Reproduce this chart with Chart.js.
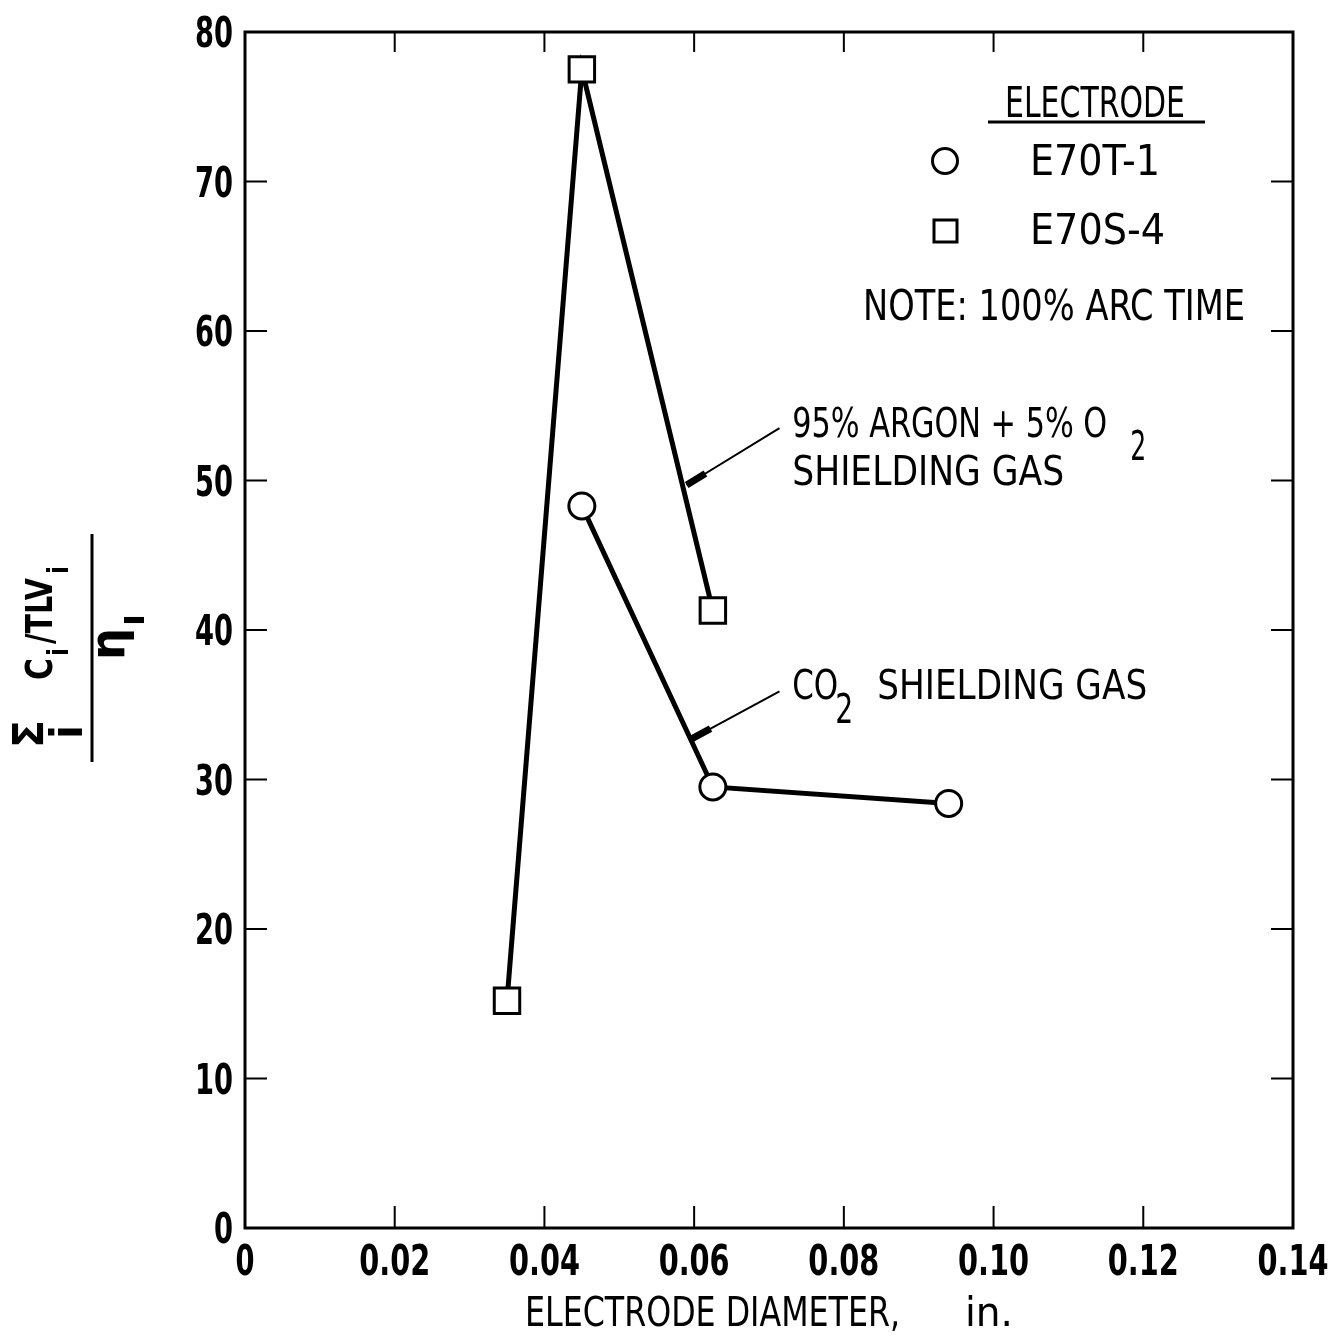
<!DOCTYPE html>
<html>
<head>
<meta charset="utf-8">
<script src="https://cdn.jsdelivr.net/npm/chart.js@4.4.0/dist/chart.umd.min.js"></script>
<style>
	body { margin: 0; background: #fff; }
	#wrap { width: 1338px; height: 1340px; position: relative; }
</style>
</head>
<body>
<div id="wrap"><canvas id="fumeChart"></canvas></div>
<script>
// electrode diameter (in.) and fume index
const diamE70S4 = [0.035, 0.045, 0.0625];
const fumeE70S4 = [15.2, 77.5, 41.3];
const diamE70T1 = [0.045, 0.0625, 0.094];
const fumeE70T1 = [48.3, 29.5, 28.4];

const xTicks = [0, 0.02, 0.04, 0.06, 0.08, 0.10, 0.12, 0.14];
const yTicks = [0, 10, 20, 30, 40, 50, 60, 70, 80];
const xTickLabels = ["0", "0.02", "0.04", "0.06", "0.08", "0.10", "0.12", "0.14"];

const FONT = "'DejaVu Sans Condensed', 'DejaVu Sans', sans-serif";

function toPoints(xs, ys) {
	return xs.map((x, i) => ({x: x, y: ys[i]}));
}

// texto estrecho: se escala en x para ocupar el ancho pedido
function drawText(ctx, text, x, y, size, width, align, weight) {
	ctx.save();
	ctx.font = `${weight || "normal"} ${size}px ${FONT}`;
	ctx.textBaseline = "alphabetic";
	ctx.textAlign = "left";
	const raw = ctx.measureText(text).width;
	const k = width ? width / raw : 0.86;
	const w = raw * k;
	let x0 = x;
	if (align === "center") x0 = x - w / 2;
	if (align === "right") x0 = x - w;
	ctx.translate(x0, y);
	ctx.scale(k, 1);
	ctx.fillText(text, 0, 0);
	ctx.restore();
	return w;
}

function tickWidth(label) {
	let w = 0;
	for (const ch of label) w += ch === "." ? 14 : 19;
	return w;
}

const framePlugin = {
	id: "frame",
	afterDraw(chart) {
		const ctx = chart.ctx;
		const a = chart.chartArea;
		const sx = chart.scales.x;
		const sy = chart.scales.y;
		ctx.save();
		ctx.strokeStyle = "#000";
		ctx.fillStyle = "#000";
		ctx.lineWidth = 3;
		ctx.strokeRect(a.left, a.top, a.right - a.left, a.bottom - a.top);
		ctx.lineWidth = 2;
		ctx.beginPath();
		xTicks.slice(1, -1).forEach((v) => {
			const px = sx.getPixelForValue(v);
			ctx.moveTo(px, a.bottom); ctx.lineTo(px, a.bottom - 22);
			ctx.moveTo(px, a.top); ctx.lineTo(px, a.top + 20);
		});
		yTicks.slice(1, -1).forEach((v) => {
			const py = sy.getPixelForValue(v);
			ctx.moveTo(a.left, py); ctx.lineTo(a.left + 22, py);
			ctx.moveTo(a.right, py); ctx.lineTo(a.right - 22, py);
		});
		ctx.stroke();

		// etiquetas de los ejes
		xTicks.forEach((v, i) => {
			const lab = xTickLabels[i];
			drawText(ctx, lab, sx.getPixelForValue(v), a.bottom + 47, 42, tickWidth(lab), "center", "bold");
		});
		yTicks.forEach((v) => {
			const lab = String(v);
			drawText(ctx, lab, a.left - 12, sy.getPixelForValue(v) + 15, 42, tickWidth(lab), "right", "bold");
		});
		ctx.restore();
	},
};

const notesPlugin = {
	id: "notes",
	afterDraw(chart) {
		const ctx = chart.ctx;
		const sx = chart.scales.x;
		const sy = chart.scales.y;
		const P = (x, y) => [sx.getPixelForValue(x), sy.getPixelForValue(y)];
		ctx.save();
		ctx.fillStyle = "#000";
		ctx.strokeStyle = "#000";

		// leyenda
		drawText(ctx, "ELECTRODE", 1005, 117, 43, 180);
		ctx.lineWidth = 3;
		ctx.beginPath();
		ctx.moveTo(988, 122); ctx.lineTo(1205, 122);
		ctx.stroke();
		ctx.beginPath();
		ctx.arc(945, 161, 12.5, 0, Math.PI * 2);
		ctx.stroke();
		ctx.strokeRect(934, 220, 23, 22);
		drawText(ctx, "E70T-1", 1030, 175, 43, 130);
		drawText(ctx, "E70S-4", 1030, 244, 43, 135);
		drawText(ctx, "NOTE: 100% ARC TIME", 863, 320, 43, 382);

		// flechas de anotacion
		const leader = (from, tip) => {
			const [x1, y1] = from;
			const [x2, y2] = tip;
			ctx.lineWidth = 2;
			ctx.beginPath();
			ctx.moveTo(x1, y1); ctx.lineTo(x2, y2);
			ctx.stroke();
			const len = Math.hypot(x1 - x2, y1 - y2);
			const ux = (x1 - x2) / len, uy = (y1 - y2) / len;
			ctx.lineWidth = 7;
			ctx.beginPath();
			ctx.moveTo(x2, y2); ctx.lineTo(x2 + ux * 22, y2 + uy * 22);
			ctx.stroke();
		};
		leader(P(0.0714, 53.5), P(0.0590, 49.7));
		leader(P(0.0714, 35.9), P(0.0596, 32.7));

		// textos de las curvas
		const [ax, ay] = P(0.0731, 52.9);
		drawText(ctx, "95% ARGON + 5% O", ax, ay, 40, 315);
		drawText(ctx, "2", ax + 338, ay + 23, 40, 16);
		drawText(ctx, "SHIELDING GAS", ax, ay + 48, 40, 272);

		const [cx, cy] = P(0.0731, 35.4);
		drawText(ctx, "CO", cx, cy, 40, 46);
		drawText(ctx, "2", cx + 43, cy + 24, 40, 18);
		drawText(ctx, "SHIELDING GAS", cx + 85, cy, 40, 270);

		// titulo del eje x
		drawText(ctx, "ELECTRODE DIAMETER,", 525, 1326, 40, 375);
		drawText(ctx, "in.", 965, 1326, 40, 48);

		// titulo del eje y (fraccion rotada)
		ctx.translate(92, 648);
		ctx.rotate(-Math.PI / 2);
		ctx.lineWidth = 3;
		ctx.beginPath();
		ctx.moveTo(-114, 0); ctx.lineTo(114, 0);
		ctx.stroke();
		drawText(ctx, "\u03A3", -100, -49, 42, 28, "left", "bold");
		drawText(ctx, "i", -91, -10, 44, 14, "left", "bold");
		drawText(ctx, "C", -32, -40, 38, 22, "left", "bold");
		drawText(ctx, "i", -8, -24, 28, 8, "left", "bold");
		drawText(ctx, "/TLV", 4, -40, 38, 66, "left", "bold");
		drawText(ctx, "i", 74, -24, 28, 8, "left", "bold");
		drawText(ctx, "\u03B7", -12, 32, 48, 32, "left", "bold");
		drawText(ctx, "I", 22, 52, 26, 12, "left", "bold");
		ctx.restore();
	},
};

const ctxChart = document.getElementById("fumeChart").getContext("2d");
const config = {
	type: "scatter",
	data: {
		datasets: [
			{
				label: "E70S-4",
				data: toPoints(diamE70S4, fumeE70S4),
				showLine: true,
				borderColor: "#000",
				borderWidth: 5,
				pointStyle: "rect",
				pointRadius: 18,
				pointHoverRadius: 18,
				pointBorderWidth: 3,
				pointBackgroundColor: "#fff",
				pointBorderColor: "#000",
			},
			{
				label: "E70T-1",
				data: toPoints(diamE70T1, fumeE70T1),
				showLine: true,
				borderColor: "#000",
				borderWidth: 5,
				pointStyle: "circle",
				pointRadius: 13,
				pointHoverRadius: 13,
				pointBorderWidth: 3,
				pointBackgroundColor: "#fff",
				pointBorderColor: "#000",
			},
		],
	},
	options: {
		responsive: true,
		maintainAspectRatio: false,
		animation: false,
		layout: {padding: {top: 32, right: 45, left: 0, bottom: 0}},
		plugins: {
			legend: {display: false},
			tooltip: {enabled: false},
		},
		scales: {
			x: {
				type: "linear",
				min: 0,
				max: 0.14,
				afterFit: (scale) => {
					scale.height = 112;
				},
				grid: {display: false},
				border: {display: false},
				ticks: {display: false},
			},
			y: {
				type: "linear",
				min: 0,
				max: 80,
				afterFit: (scale) => {
					scale.width = 245;
				},
				grid: {display: false},
				border: {display: false},
				ticks: {display: false},
			},
		},
	},
	plugins: [framePlugin, notesPlugin],
};
new Chart(ctxChart, config);
</script>
</body>
</html>
